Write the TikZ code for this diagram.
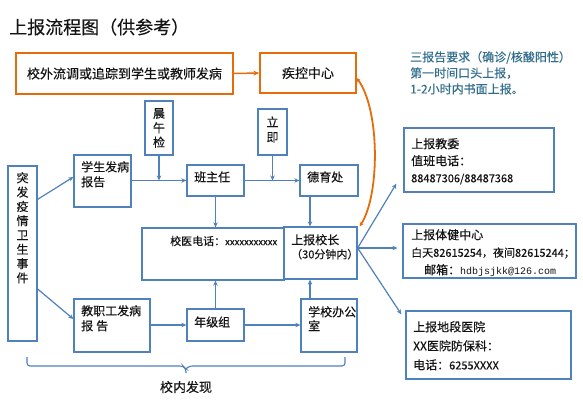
\documentclass[tikz,border=0pt]{standalone}
\usepackage{fontspec}
\setmainfont{Noto Sans CJK SC}[FakeBold=0.3]
\newfontfamily\monof{Liberation Mono}
\usetikzlibrary{arrows.meta,calc}
\definecolor{bblue}{RGB}{79,129,189}
\definecolor{oorange}{RGB}{228,108,10}
\definecolor{tblue}{RGB}{49,110,140}
\definecolor{ink}{RGB}{20,20,20}
\begin{document}
\begin{tikzpicture}[x=1pt,y=-1pt,
 bbox/.style={draw=bblue, line width=1.3pt, rectangle, inner sep=0pt},
 obox/.style={draw=oorange, line width=1.5pt, rectangle, inner sep=0pt},
 txt/.style={font=\fontsize{12}{15}\selectfont, text=ink, inner sep=0pt, align=left},
 arr/.style={draw=bblue, line width=1.2pt, -{Stealth[length=5pt,width=4.5pt]}},
 oarr/.style={draw=oorange, line width=1.5pt, -{Stealth[length=6pt,width=5pt]}},
 ]
\useasboundingbox[fill=white] (0,0) rectangle (583,408);

% title
\node[txt, anchor=west, font=\fontsize{18}{20}\selectfont] (title) at (9,27) {上报流程图（供参考）};

% orange boxes
\node[obox, minimum width=217pt, minimum height=41pt, font=\fontsize{13}{15}\selectfont, text=ink] (wx) at (124.5,73.5) {校外流调或追踪到学生或教师发病};
\node[obox, minimum width=96pt, minimum height=40pt, font=\fontsize{13}{15}\selectfont, text=ink] (jk) at (308,73) {疾控中心};
\draw[oarr] (wx.east) -- (jk.west);

% top-right note
\node[txt, anchor=north west, text=tblue, font=\fontsize{12}{16}\selectfont] (note) at (410,51) {三报告要求（确诊/核酸阳性）\\第一时间口头上报，\\1-2小时内书面上报。};

% blue boxes
\node[bbox, minimum width=28pt, minimum height=54pt] (cwj) at (159,128) {};
\node[txt, align=center, font=\fontsize{12}{14.5}\selectfont] (cwjt) at (159,128) {晨\\午\\检};
\node[bbox, minimum width=29pt, minimum height=46pt] (lj) at (272.5,132) {};
\node[txt, align=center, font=\fontsize{12}{15}\selectfont] (ljt) at (272.5,129.5) {立\\即};
\node[bbox, minimum width=29pt, minimum height=175pt] (tf) at (22.5,253.5) {};
\node[txt, align=center, anchor=north, font=\fontsize{12}{14.3}\selectfont] (tft) at (22.5,172) {突\\发\\疫\\情\\卫\\生\\事\\件};
\node[bbox, minimum width=57pt, minimum height=52pt] (xs) at (102.5,181) {};
\node[txt, anchor=north west] (xst) at (81,161) {学生发病\\报告};
\node[bbox, minimum width=57pt, minimum height=31pt] (bzr) at (215.5,180.5) {};
\node[txt, anchor=west] (bzrt) at (194,177) {班主任};
\node[bbox, minimum width=58pt, minimum height=31pt] (dyc) at (329,180.5) {};
\node[txt, anchor=west] (dyct) at (307,177) {德育处};
\node[bbox, minimum width=142pt, minimum height=52pt] (xy) at (213,254) {};
\node[txt, anchor=west, font=\fontsize{11}{13}\selectfont] (xyt) at (170,241) {校医电话：{\fontsize{9.5}{11}\selectfont xxxxxxxxxxx}};
\node[bbox, minimum width=73pt, minimum height=52pt] (sbxz) at (320.5,253) {};
\node[txt, anchor=north west, font=\fontsize{12}{14}\selectfont] (sbxzt) at (291,234) {上报校长\\{\fontsize{11}{13}\selectfont（30分钟内）}};
\node[bbox, minimum width=76pt, minimum height=53pt] (jzg) at (112,325.5) {};
\node[txt, anchor=north west] (jzgt) at (81,305) {教职工发病\\报\hspace{3pt}告};
\node[bbox, minimum width=57pt, minimum height=32pt] (njz) at (215.5,325) {};
\node[txt, anchor=west] (njzt) at (194,322) {年级组};
\node[bbox, minimum width=56pt, minimum height=53pt] (xbg) at (329,325.5) {};
\node[txt, anchor=north west, font=\fontsize{12}{14}\selectfont] (xbgt) at (308,306) {学校办公\\室};

% right boxes
\node[bbox, minimum width=150pt, minimum height=64pt] (jw) at (479,160) {};
\node[txt, anchor=north west, font=\fontsize{12}{17}\selectfont] (jwt) at (411,138) {上报教委\\值班电话：\\{\fontsize{11}{13}\selectfont 88487306/88487368}};
\node[bbox, minimum width=173pt, minimum height=54pt] (tj) at (489.5,251) {};
\node[txt, anchor=north west, font=\fontsize{12}{17.5}\selectfont] (tjt) at (411,229) {上报体健中心\\{\fontsize{11}{13}\selectfont 白天82615254，夜间82615244；}\\\hspace{13pt}邮箱：{\monof\fontsize{10}{12}\selectfont hdbjsjkk@126.com}};
\node[bbox, minimum width=165pt, minimum height=68pt] (dd) at (488.5,345) {};
\node[txt, anchor=north west, font=\fontsize{12}{19}\selectfont] (ddt) at (413,321) {上报地段医院\\XX医院防保科：\\电话：{\fontsize{11}{13}\selectfont 6255XXXX}};

% connectors
\draw[arr] ([yshift=-34pt]tf.north east) -- ([yshift=4pt]xs.west);
\draw[arr] ([yshift=-35.5pt]tf.east) -- ([yshift=6.5pt]jzg.west);
\draw[arr] (xs.east |- bzr.west) -- (bzr.west);
\draw[arr] (cwj.south) -- (cwj.south |- bzr.west);
\draw[arr] (bzr.east) -- (dyc.west);
\draw[arr] (lj.south) -- (lj.south |- bzr.east);
\draw[arr] (bzr.south) -- (bzr.south |- xy.north);
\draw[arr] ([xshift=-19pt]dyc.south) -- ([xshift=-19pt]dyc.south |- sbxz.north);
\draw[arr] (jzg.east |- njz.west) -- (njz.west);
\draw[arr] (njz.east) -- (njz.east -| xbg.west);
\draw[arr] (njz.north) -- (njz.north |- xy.south);
\draw[arr] ([xshift=-19pt]xbg.north) -- ([xshift=-19pt]xbg.north |- sbxz.south);
\coordinate (fan) at ([yshift=5pt]sbxz.east);
\draw[arr] (fan) -- ($(jw.south west)+(-7,-9)$);
\draw[arr] (fan) -- ($(tj.west |- fan)+(-5,0)$);
\draw[arr] (fan) -- ($(dd.north west)+(-4,4)$);

% orange curve
\draw[draw=oorange, line width=1.8pt, line cap=round, {Stealth[length=4pt,width=4pt]}-{Stealth[length=4pt,width=4pt]}]
  ([yshift=-5pt]jk.east) .. controls (380,110) and (380,195) .. ([xshift=2pt]sbxz.north east);

% brace
\draw[bblue, line width=1.1pt, rounded corners=3pt] (27,357) -- (27,366) -- (183,366) -- (186,369) -- (186,373);
\draw[bblue, line width=1.1pt, rounded corners=3pt] (345,357) -- (345,366) -- (189,366) -- (186,369);
\node[txt, font=\fontsize{13}{15}\selectfont] (fx) at (186,387) {校内发现};
\end{tikzpicture}
\end{document}
